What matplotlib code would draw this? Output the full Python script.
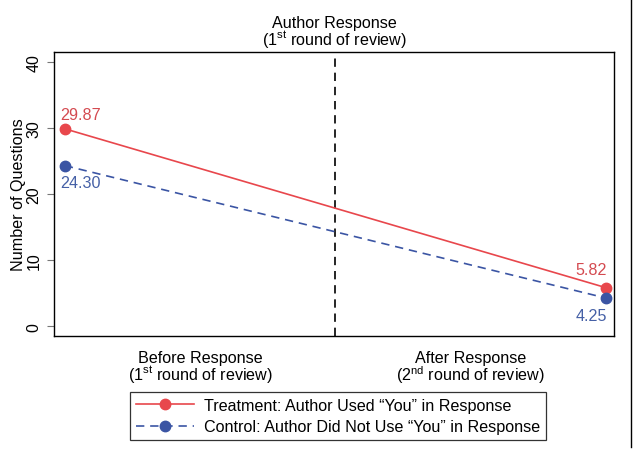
import matplotlib
matplotlib.use("Agg")
import matplotlib.pyplot as plt
from matplotlib.lines import Line2D

plt.rcParams['font.family'] = ['Liberation Sans', 'DejaVu Sans']
plt.rcParams['mathtext.fontset'] = 'custom'
plt.rcParams['mathtext.rm'] = 'Liberation Sans'
plt.rcParams['mathtext.it'] = 'Liberation Sans:italic'

periods = [0, 1]
period_labels = ["Before Response\n(1$^{\\rm st}$ round of review)",
                 "After Response\n(2$^{\\rm nd}$ round of review)"]
treatment = [29.87, 5.82]
control = [24.30, 4.25]
series_names = ["Treatment: Author Used \u201cYou\u201d in Response",
                "Control: Author Did Not Use \u201cYou\u201d in Response"]
yticks = [0, 10, 20, 30, 40]

red = '#E8474C'
blue = '#3B55A4'
red_txt = '#D44A50'
blue_txt = '#4560A6'
FS = 11.6
dash = (0, (5, 3.5))

fig = plt.figure(figsize=(6.37, 4.52), dpi=100)
ax = fig.add_axes([54/637, 1-337/452, (614-54)/637, (337-53)/452])

ax.plot(periods, treatment, color=red, lw=1.2, marker='o', ms=7.5, zorder=3)
ax.plot(periods, control, color=blue, lw=1.2, ls=dash, marker='o', ms=7.5, zorder=3)
ax.axvline(0.5, color='black', lw=1.2, ls=dash)

ax.set_xlim(-0.02, 1.015)
ax.set_ylim(-1.5, 41.5)
ax.set_yticks(yticks)
ax.set_yticklabels([str(v) for v in yticks], rotation=90, va='center', fontsize=11.5)
ax.tick_params(axis='y', length=5, color='#777777', pad=4)
ax.set_xticks([0.25, 0.75])
ax.set_xticklabels(period_labels, fontsize=FS, linespacing=0.9)
ax.tick_params(axis='x', length=0, pad=10)
ax.set_ylabel("Number of Questions", fontsize=FS, labelpad=0)
for s in ax.spines.values():
    s.set_linewidth(1.0)

# value labels
ax.annotate(f"{treatment[0]:.2f}", (periods[0], treatment[0]), xytext=(-3, 5),
            textcoords='offset points', color=red_txt, fontsize=FS, ha='left', va='bottom')
ax.annotate(f"{control[0]:.2f}", (periods[0], control[0]), xytext=(-3, -7),
            textcoords='offset points', color=blue_txt, fontsize=FS, ha='left', va='top')
ax.annotate(f"{treatment[1]:.2f}", (periods[1], treatment[1]), xytext=(1, 8),
            textcoords='offset points', color=red_txt, fontsize=FS, ha='right', va='bottom')
ax.annotate(f"{control[1]:.2f}", (periods[1], control[1]), xytext=(1, -7),
            textcoords='offset points', color=blue_txt, fontsize=FS, ha='right', va='top')

ax.text(0.5, 1.012, "Author Response\n(1$^{\\rm st}$ round of review)", transform=ax.transAxes,
        ha='center', va='bottom', fontsize=FS, linespacing=0.85)

handles = [Line2D([], [], color=red, lw=1.2, marker='o', ms=7.5),
           Line2D([], [], color=blue, lw=1.2, ls=dash, marker='o', ms=7.5)]
leg = fig.legend(handles, series_names, loc='center', bbox_to_anchor=(338/637, 1-417/452),
                 fontsize=FS, frameon=True, fancybox=False, edgecolor='black',
                 handlelength=3.6, borderpad=0.35, labelspacing=0.4, handletextpad=0.65,
                 borderaxespad=0)
leg.get_frame().set_linewidth(0.9)

fig.add_artist(Line2D([631/637, 631/637], [1-448/452, 1.0], transform=fig.transFigure,
                      color='black', lw=1.0))

fig.savefig("out.png", dpi=100)
